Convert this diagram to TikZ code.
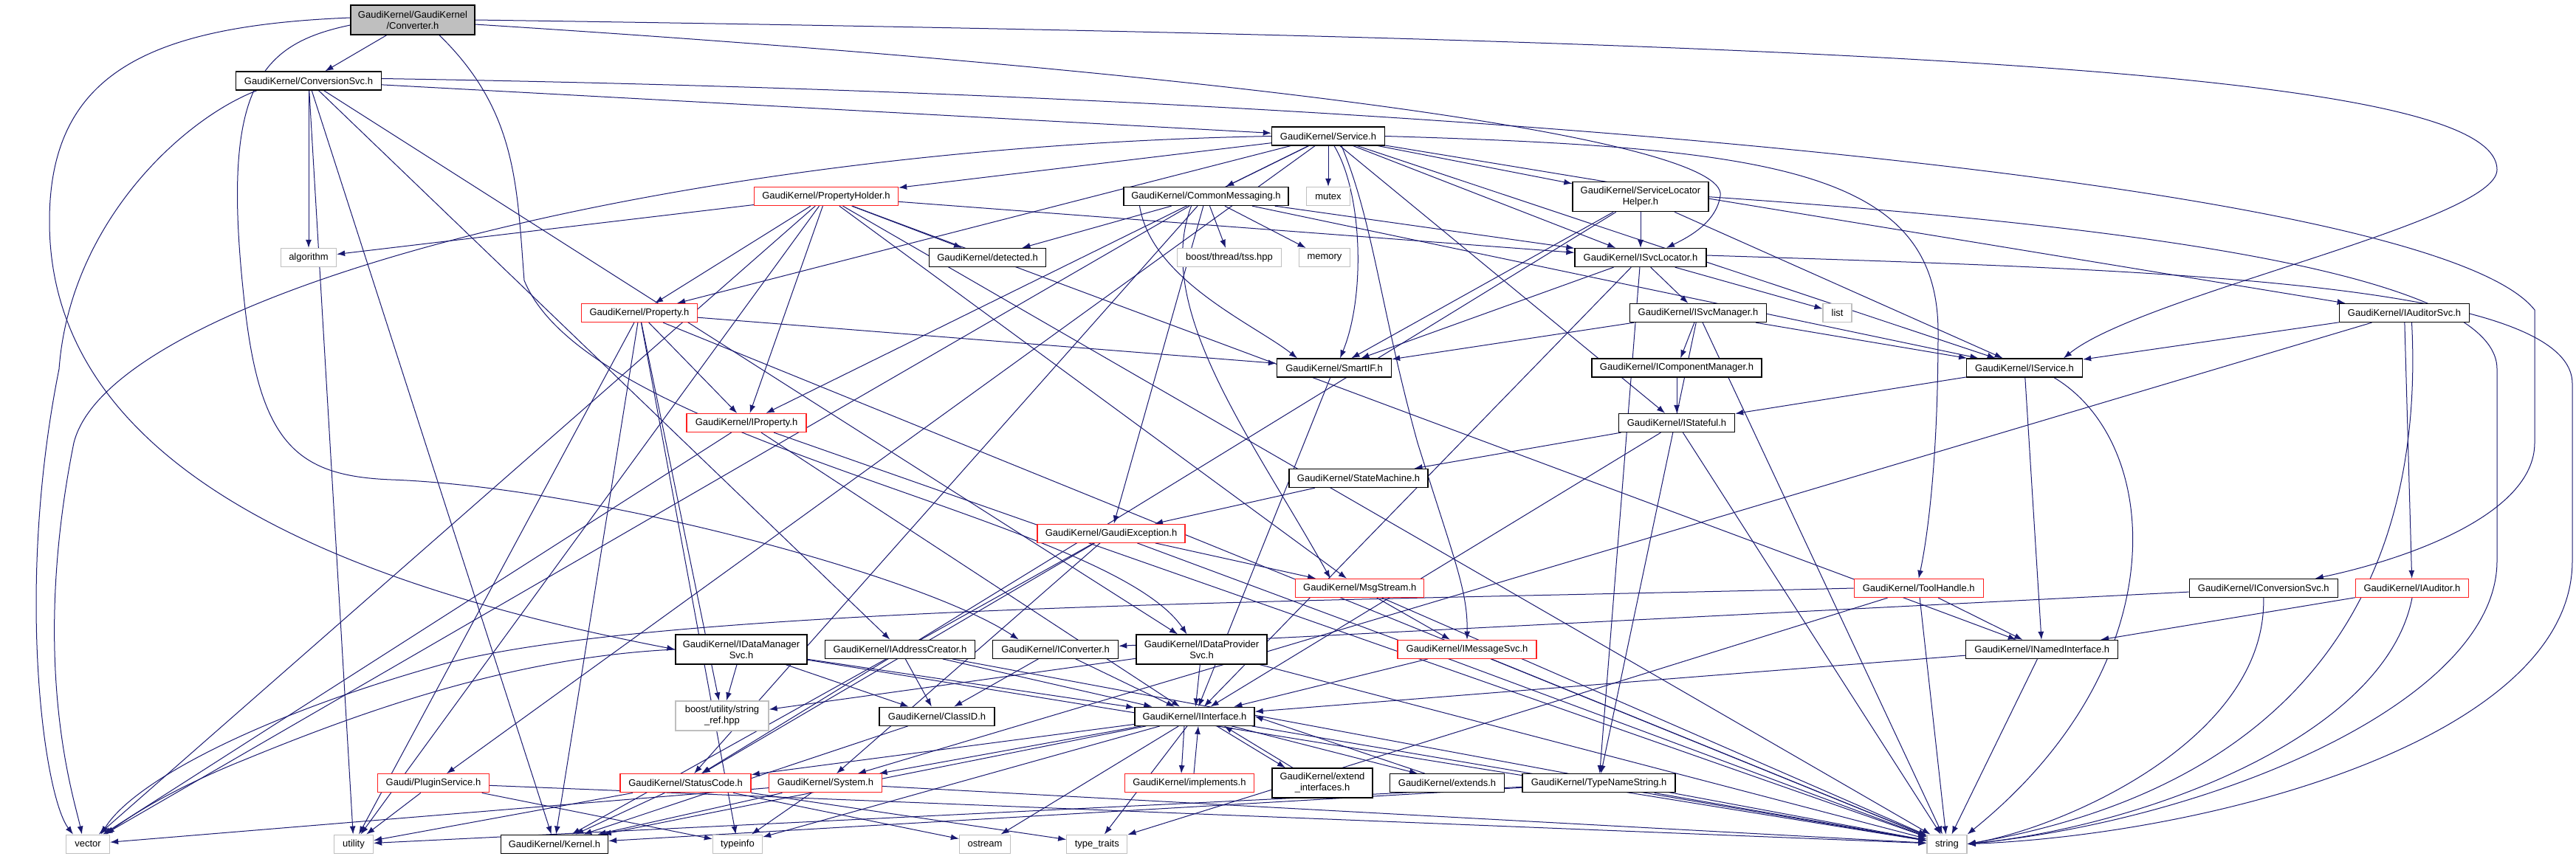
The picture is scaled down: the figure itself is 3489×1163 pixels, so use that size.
\documentclass[tikz,border=0pt]{standalone}
\usepackage{fontspec}
\setmainfont{Liberation Sans}
\usetikzlibrary{arrows.meta}
\definecolor{ecol}{HTML}{191970}
\definecolor{sysc}{HTML}{BFBFBF}
\definecolor{rootc}{HTML}{BFBFBF}
\definecolor{redc}{HTML}{FF2020}
\pgfdeclarelayer{canvas}
\pgfdeclarelayer{background}
\pgfsetlayers{canvas,background,main}
\begin{document}
\begin{tikzpicture}[x=1pt,y=-1pt,
  nb/.style={draw=black, line width=1.3pt, fill=white, minimum height=25pt, inner sep=0pt, font=\fontsize{13}{15}\selectfont, align=center},
  rb/.style={nb, draw=redc},
  gb/.style={nb, draw=sysc},
  e/.style={-{Latex[length=11pt,width=8pt]}, color=ecol, line width=1pt}
]
\useasboundingbox (0,0) rectangle (3489,1163);
\begin{pgfonlayer}{canvas}
\fill[white] (0,0) rectangle (3489,1163);
\end{pgfonlayer}
% nodes
\node[nb,minimum width=168,minimum height=40,fill=rootc] (root) at (559,27) {GaudiKernel/GaudiKernel\\/Converter.h};
\node[nb,minimum width=197] (csvc) at (418,109.5) {GaudiKernel/ConversionSvc.h};
\node[nb,minimum width=153] (svc) at (1799,184.5) {GaudiKernel/Service.h};
\node[rb,minimum width=195] (ph) at (1119,266) {GaudiKernel/PropertyHolder.h};
\node[nb,minimum width=223] (cm) at (1633.5,266) {GaudiKernel/CommonMessaging.h};
\node[gb,minimum width=59] (mutex) at (1799,266) {mutex};
\node[nb,minimum width=184,minimum height=40] (slh) at (2222,266.7) {GaudiKernel/ServiceLocator\\Helper.h};
\node[gb,minimum width=75] (algo) at (418,349) {algorithm};
\node[nb,minimum width=158] (det) at (1337.6,349) {GaudiKernel/detected.h};
\node[gb,minimum width=141] (tss) at (1665,349) {boost/thread/tss.hpp};
\node[gb,minimum width=69] (memory) at (1794,349) {memory};
\node[nb,minimum width=178] (isl) at (2222,349) {GaudiKernel/ISvcLocator.h};
\node[rb,minimum width=157] (prop) at (866,424) {GaudiKernel/Property.h};
\node[nb,minimum width=185] (ism) at (2300,424) {GaudiKernel/ISvcManager.h};
\node[gb,minimum width=39] (list) at (2488.6,424) {list};
\node[nb,minimum width=176] (ias) at (3256.5,424) {GaudiKernel/IAuditorSvc.h};
\node[nb,minimum width=155] (sif) at (1807,498.5) {GaudiKernel/SmartIF.h};
\node[nb,minimum width=230] (icm) at (2271,498.5) {GaudiKernel/IComponentManager.h};
\node[nb,minimum width=157] (isv) at (2742,498.5) {GaudiKernel/IService.h};
\node[rb,minimum width=162] (iprop) at (1011,573) {GaudiKernel/IProperty.h};
\node[nb,minimum width=157] (ist) at (2271,573) {GaudiKernel/IStateful.h};
\node[nb,minimum width=188] (sm) at (1840,648) {GaudiKernel/StateMachine.h};
\node[rb,minimum width=200] (ge) at (1505,722.7) {GaudiKernel/GaudiException.h};
\node[rb,minimum width=174] (ms) at (1841.8,797) {GaudiKernel/MsgStream.h};
\node[rb,minimum width=175] (th) at (2598.7,797) {GaudiKernel/ToolHandle.h};
\node[nb,minimum width=201] (icsv) at (3065.8,797) {GaudiKernel/IConversionSvc.h};
\node[rb,minimum width=153] (iaud) at (3267,797) {GaudiKernel/IAuditor.h};
\node[nb,minimum width=178,minimum height=40] (idms) at (1004,880) {GaudiKernel/IDataManager\\Svc.h};
\node[nb,minimum width=203] (iac) at (1219,879.7) {GaudiKernel/IAddressCreator.h};
\node[nb,minimum width=170] (iconv) at (1429.6,879.7) {GaudiKernel/IConverter.h};
\node[nb,minimum width=177,minimum height=40] (idps) at (1627.5,880) {GaudiKernel/IDataProvider\\Svc.h};
\node[rb,minimum width=188] (imsg) at (1987,879.8) {GaudiKernel/IMessageSvc.h};
\node[nb,minimum width=206] (ini) at (2765.8,880) {GaudiKernel/INamedInterface.h};
\node[gb,minimum width=126,minimum height=40] (sref) at (978,970) {boost/utility/string\\\_ref.hpp};
\node[nb,minimum width=156] (cid) at (1269,970.7) {GaudiKernel/ClassID.h};
\node[nb,minimum width=162] (iint) at (1618,970.7) {GaudiKernel/IInterface.h};
\node[rb,minimum width=151] (ps) at (587,1061.3) {Gaudi/PluginService.h};
\node[rb,minimum width=177] (sc) at (928.6,1061.3) {GaudiKernel/StatusCode.h};
\node[rb,minimum width=153] (sys) at (1118,1061.3) {GaudiKernel/System.h};
\node[rb,minimum width=175] (impl) at (1611,1061.3) {GaudiKernel/implements.h};
\node[nb,minimum width=136,minimum height=40] (ext) at (1791,1061) {GaudiKernel/extend\\\_interfaces.h};
\node[nb,minimum width=155] (exts) at (1960,1061.3) {GaudiKernel/extends.h};
\node[nb,minimum width=207] (tns) at (2165.6,1061.3) {GaudiKernel/TypeNameString.h};
\node[gb,minimum width=59] (vec) at (119,1143.7) {vector};
\node[gb,minimum width=53] (util) at (479,1143.7) {utility};
\node[nb,minimum width=145] (kern) at (751,1143.7) {GaudiKernel/Kernel.h};
\node[gb,minimum width=67] (tinfo) at (999,1143.7) {typeinfo};
\node[gb,minimum width=69] (ostr) at (1334,1143.7) {ostream};
\node[gb,minimum width=82] (ttr) at (1485.8,1143.7) {type\_traits};
\node[gb,minimum width=54] (str) at (2637,1143.7) {string};

\begin{pgfonlayer}{background}
\foreach \a/\b in {root/csvc,
 csvc/svc, csvc/algo, csvc/util, csvc/iac, csvc/idps, csvc/kern,
 svc/cm, svc/mutex, svc/slh, svc/isl, svc/isv, svc/ias, svc/ist, svc/ph, svc/prop, svc/iprop, svc/ps,
 ph/algo, ph/vec, ph/util, ph/prop, ph/iprop, ph/det, ph/isl, ph/ms, ph/ini, ph/str,
 cm/det, cm/tss, cm/memory, cm/isl, cm/isv, cm/ge, cm/sc, cm/vec,
 slh/isl, slh/sif, slh/isv, slh/sc,
 isl/ism, isl/list, isl/sif, isl/iint, isl/tns,
 ism/sif, ism/icm, ism/isv, ism/tns, ism/str,
 icm/ist, isv/ist, isv/ini,
 ias/isv, ias/iaud, ias/sys, iaud/ini, icsv/iconv,
 th/ini, th/str, th/ttr,
 ist/sm, ist/iint, ist/str, sm/ge, sif/iint,
 prop/iprop, prop/sif, prop/str, prop/kern, prop/util, prop/tinfo, prop/sref,
 iprop/vec, iprop/iint, iprop/str,
 ge/ms, ge/str, ge/sc, ge/sys, ge/kern,
 ms/imsg, ms/str, imsg/iint, imsg/str,
 idms/sref, idms/cid, idms/iint, idms/str,
 iac/cid, iac/iint, iac/str, iconv/cid, iconv/iint,
 idps/iint, idps/sref, idps/str, cid/kern,
 iint/sc, iint/sys, iint/kern, iint/tinfo, iint/ostr, iint/ttr, iint/str,
 sc/kern, sc/util, sc/ostr, sc/ttr,
 sys/kern, sys/tinfo, sys/str, sys/vec,
 ps/util, ps/str, ps/tinfo,
 tns/kern, tns/str, tns/util,
 ini/iint, ini/str}
  \draw[e] (\a) -- (\b);
% curved long edges
\draw[e] (root.east) .. controls (2600,55) and (3382,100) .. (3382,230) .. controls (3382,300) and (2900,400) .. ([xshift=53pt]isv.north);
\draw[e] ([yshift=-6pt]root.east) .. controls (1700,100) and (2340,190) .. (2330,265) .. controls (2325,300) and (2290,320) .. ([xshift=35pt]isl.north);
\draw[e] ([yshift=3pt]root.west) .. controls (200,35) and (67,100) .. (67,300) .. controls (67,650) and (500,800) .. (idms.west);
\draw[e] ([yshift=-7pt]root.west) .. controls (350,60) and (300,120) .. (330,400) .. controls (350,600) and (400,645) .. (530,650) .. controls (800,660) and (1250,780) .. ([xshift=-50pt]iconv.north);
\draw[e] ([xshift=36pt]root.south) .. controls (700,150) and (700,250) .. (710,380) .. controls (800,600) and (1500,700) .. ([xshift=-20pt]idps.north);
\draw[e] ([yshift=3pt]csvc.east) .. controls (2000,130) and (3300,250) .. (3433,420) -- (3433,600) .. controls (3433,700) and (3250,760) .. ([xshift=70pt]icsv.north);
\draw[e] ([yshift=3pt]isl.east) .. controls (2900,365) and (3484,380) .. (3484,520) -- (3484,760) .. controls (3484,1000) and (3000,1130) .. (str.east);
\draw[e] (slh.east) .. controls (2800,300) and (3382,360) .. (3382,500) -- (3382,760) .. controls (3382,950) and (3000,1110) .. (str.east);
\draw[e] ([xshift=10pt]ias.south) .. controls (3280,700) and (3200,1050) .. (str.east);
\draw[e] ([xshift=40pt]isv.south) .. controls (2930,600) and (2950,900) .. (str.north east);
\draw[e] (iaud.south) .. controls (3230,1000) and (2900,1120) .. (str.east);
\draw[e] (icsv.south) .. controls (3070,1000) and (2800,1120) .. (str.east);
\draw[e] (svc.east) .. controls (2400,200) and (2625,230) .. (2625,450) .. controls (2625,650) and (2606,750) .. (th.north);
\draw[e] ([xshift=18pt]svc.south) .. controls (1860,300) and (1870,420) .. (1920,600) .. controls (1970,760) and (1988,800) .. (imsg.north);
\draw[e] ([xshift=8pt]svc.south) .. controls (1845,260) and (1850,400) .. ([xshift=8pt]sif.north);
\draw[e] ([xshift=-90pt]cm.south) .. controls (1560,380) and (1700,440) .. ([xshift=-50pt]sif.north);
\draw[e] ([xshift=-20pt]cm.south) .. controls (1560,420) and (1700,600) .. ([xshift=-40pt]ms.north);
\draw[e] ([xshift=-70pt]csvc.south) .. controls (250,160) and (95,300) .. (80,500) .. controls (20,800) and (60,1080) .. ([xshift=-20pt]vec.north);
\draw[e] (svc.west) .. controls (900,200) and (150,400) .. (100,600) .. controls (40,900) and (100,1080) .. ([xshift=-8pt]vec.north);
\draw[e] (th.west) .. controls (1800,815) and (900,820) .. (600,900) .. controls (350,970) and (180,1060) .. ([xshift=18pt]vec.north);
\draw[e] (idms.west) .. controls (700,890) and (500,960) .. (330,1030) .. controls (230,1070) and (170,1110) .. ([xshift=25pt]vec.north);
\draw[e] ([xshift=-14pt]iint.south) -- ([xshift=-11pt]impl.north);
\draw[e] ([xshift=6pt]impl.north) -- ([xshift=5pt]iint.south);
\draw[e] ([xshift=30pt]iint.south) -- ([xshift=-50pt]ext.north);
\draw[e] ([xshift=-40pt]ext.north) -- ([xshift=40pt]iint.south);
\draw[e] ([xshift=50pt]iint.south) -- ([xshift=-40pt]exts.north);
\draw[e] ([xshift=-30pt]exts.north) -- (iint.east);
\end{pgfonlayer}
\end{tikzpicture}
\end{document}
